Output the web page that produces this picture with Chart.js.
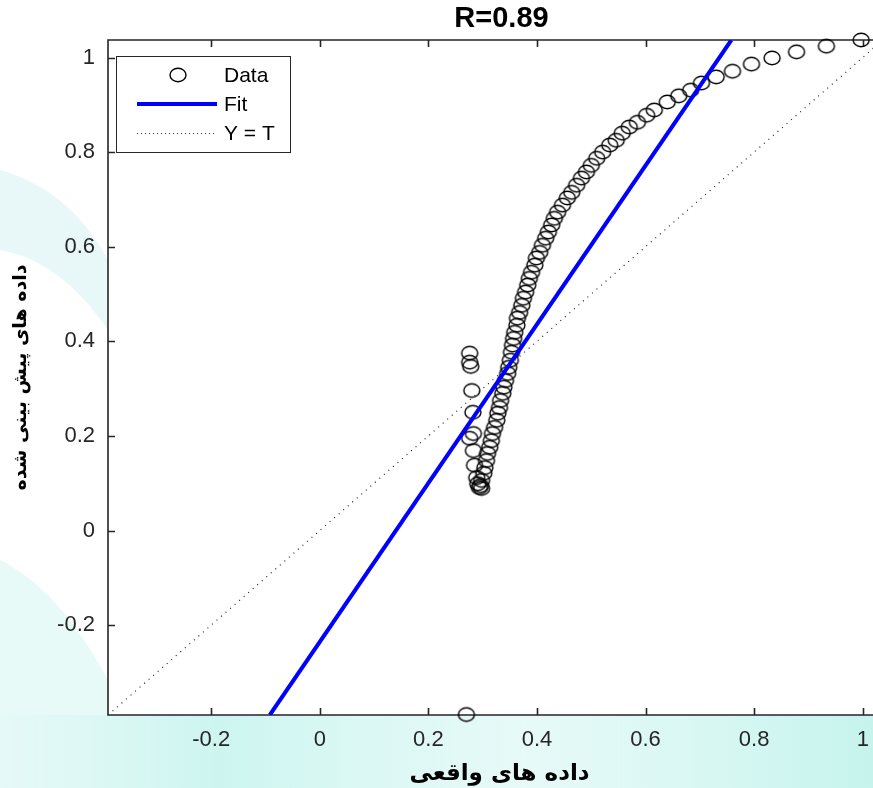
<!DOCTYPE html>
<html>
<head>
<meta charset="utf-8">
<title>R=0.89</title>
<script src="https://cdn.jsdelivr.net/npm/chart.js@4.4.1/dist/chart.umd.min.js"></script>
<style>
html, body { margin: 0; padding: 0; background: #fff; overflow: hidden; }
#wrap { position: relative; width: 901px; height: 788px; }
</style>
</head>
<body>
<div id="wrap"><canvas id="regChart" width="901" height="788"></canvas></div>
<script>
// values
const dataX = [0.270,
  0.276, 0.276, 0.278, 0.280, 0.282, 0.283, 0.276, 0.283, 0.285, 0.289, 0.291,
  0.294, 0.298, 0.296,
  0.298, 0.302, 0.304, 0.307, 0.309, 0.313, 0.316, 0.318, 0.322, 0.326, 0.328, 0.331, 0.333, 0.337,
  0.339, 0.342, 0.346, 0.348, 0.351, 0.353, 0.355, 0.357, 0.359, 0.363, 0.364, 0.368, 0.372, 0.375,
  0.379, 0.383, 0.386, 0.390, 0.396, 0.399, 0.405, 0.410, 0.416, 0.421, 0.427, 0.432, 0.438, 0.447,
  0.456, 0.464, 0.473, 0.482, 0.491, 0.500, 0.510, 0.521, 0.534, 0.546, 0.557, 0.570, 0.585, 0.602,
  0.616, 0.640, 0.661, 0.683, 0.703, 0.730, 0.760, 0.795, 0.833, 0.878, 0.933, 0.997];
const dataY = [-0.389,
  0.375, 0.356, 0.347, 0.296, 0.250, 0.205, 0.195, 0.169, 0.138, 0.112, 0.099,
  0.091, 0.089, 0.095,
  0.106, 0.121, 0.133, 0.148, 0.163, 0.176, 0.190, 0.205, 0.218, 0.233, 0.248, 0.260, 0.275, 0.290,
  0.303, 0.317, 0.332, 0.345, 0.360, 0.377, 0.392, 0.406, 0.419, 0.434, 0.449, 0.461, 0.476, 0.491,
  0.504, 0.519, 0.533, 0.546, 0.561, 0.576, 0.588, 0.603, 0.618, 0.631, 0.646, 0.660, 0.673, 0.688,
  0.703, 0.715, 0.730, 0.745, 0.758, 0.772, 0.787, 0.800, 0.815, 0.825, 0.840, 0.853, 0.863, 0.878,
  0.889, 0.906, 0.919, 0.931, 0.946, 0.959, 0.971, 0.986, 0.999, 1.012, 1.024, 1.037];

const fitX = [-0.092, 0.758];
const fitY = [-0.39, 1.037];
const unitX = [-0.39, 1.06];
const unitY = [-0.39, 1.06];

const xTicks = [-0.2, 0, 0.2, 0.4, 0.6, 0.8, 1];
const yTicks = [-0.2, 0, 0.2, 0.4, 0.6, 0.8, 1];
const legendNames = ['Data', 'Fit', 'Y = T'];

const titleText = 'R=0.89';
const xTitle = 'داده های واقعی';
const yTitle = 'داده های پیش بینی شده';

const axisColor = '#262626';
const numFont = 'Liberation Sans, Arial, sans-serif';

function pairs(xs, ys) {
  return xs.map((x, i) => ({ x: x, y: ys[i] }));
}

// open ellipse marker (the picture's circles are a little wider than tall)
const marker = document.createElement('canvas');
marker.width = 20;
marker.height = 18;
(function () {
  const m = marker.getContext('2d');
  m.strokeStyle = '#000';
  m.lineWidth = 1.4;
  m.beginPath();
  m.ellipse(10, 9, 8, 6.8, 0, 0, Math.PI * 2);
  m.stroke();
})();

// faint logo watermark behind the axes
const watermark = {
  id: 'watermark',
  beforeDraw(chart) {
    const c = chart.ctx;
    c.save();
    let g = c.createLinearGradient(0, 0, 873, 0);
    g.addColorStop(0, 'rgba(205,244,240,0.5)');
    g.addColorStop(0.25, 'rgba(200,244,238,0.9)');
    g.addColorStop(0.6, 'rgba(215,247,243,0.6)');
    g.addColorStop(1, 'rgba(195,243,236,0.95)');
    c.fillStyle = g;
    c.fillRect(0, 715, 901, 73);
    c.fillStyle = 'rgba(210,240,242,0.5)';
    c.beginPath();
    c.moveTo(0, 170);
    c.quadraticCurveTo(70, 190, 108, 260);
    c.lineTo(108, 330);
    c.quadraticCurveTo(60, 260, 0, 250);
    c.closePath();
    c.fill();
    c.fillStyle = 'rgba(205,244,238,0.45)';
    c.beginPath();
    c.moveTo(0, 560);
    c.quadraticCurveTo(60, 590, 108, 680);
    c.lineTo(108, 715);
    c.lineTo(0, 715);
    c.closePath();
    c.fill();
    c.restore();
  }
};

const frame = {
  id: 'frame',
  beforeDatasetsDraw(chart) {
    const c = chart.ctx;
    const a = chart.chartArea;
    const xs = chart.scales.x;
    const ys = chart.scales.y;
    c.save();
    c.fillStyle = '#fff';
    c.fillRect(a.left, a.top, a.right - a.left, a.bottom - a.top);
    c.strokeStyle = axisColor;
    c.lineWidth = 1.6;
    c.beginPath();
    c.rect(a.left, a.top, a.right - a.left, a.bottom - a.top);
    xTicks.forEach(v => {
      const px = Math.round(xs.getPixelForValue(v)) + 0.5;
      c.moveTo(px, a.bottom);
      c.lineTo(px, a.bottom - 7);
      c.moveTo(px, a.top);
      c.lineTo(px, a.top + 7);
    });
    yTicks.forEach(v => {
      const py = Math.round(ys.getPixelForValue(v)) + 0.5;
      c.moveTo(a.left, py);
      c.lineTo(a.left + 7, py);
      c.moveTo(a.right, py);
      c.lineTo(a.right - 7, py);
    });
    c.stroke();
    c.restore();
  },
  afterDraw(chart) {
    const c = chart.ctx;
    const a = chart.chartArea;
    c.save();
    // title over the axes
    c.fillStyle = '#000';
    c.font = 'bold 29px ' + numFont;
    c.textAlign = 'center';
    c.textBaseline = 'middle';
    c.fillText(titleText, (a.left + a.right) / 2 + 2, 19);

    // legend box
    const bx = a.left + 8, by = a.top + 16, bw = 174, bh = 96;
    c.fillStyle = '#fff';
    c.fillRect(bx, by, bw, bh);
    c.strokeStyle = axisColor;
    c.lineWidth = 1;
    c.strokeRect(bx + 0.5, by + 0.5, bw, bh);

    const rows = [by + 19, by + 48, by + 77];
    c.drawImage(marker, bx + 52, rows[0] - 9);
    c.strokeStyle = '#0000ff';
    c.lineWidth = 4;
    c.beginPath();
    c.moveTo(bx + 21, rows[1]);
    c.lineTo(bx + 101, rows[1]);
    c.stroke();
    c.strokeStyle = '#333';
    c.lineWidth = 1;
    c.setLineDash([1, 3]);
    c.beginPath();
    c.moveTo(bx + 21, rows[2] + 0.5);
    c.lineTo(bx + 101, rows[2] + 0.5);
    c.stroke();
    c.setLineDash([]);

    c.fillStyle = '#000';
    c.font = '21px ' + numFont;
    c.textAlign = 'left';
    legendNames.forEach((t, i) => c.fillText(t, bx + 108, rows[i] + 1));
    c.restore();
  }
};

const ctx = document.getElementById('regChart').getContext('2d');
const regChart = new Chart(ctx, {
  type: 'scatter',
  data: {
    datasets: [
      {
        label: legendNames[1],
        type: 'line',
        data: pairs(fitX, fitY),
        borderColor: '#0000ff',
        borderWidth: 4,
        pointRadius: 0,
        fill: false,
      },
      {
        label: legendNames[2],
        type: 'line',
        data: pairs(unitX, unitY),
        borderColor: '#222',
        borderWidth: 1.2,
        borderDash: [1, 5],
        pointRadius: 0,
        fill: false,
      },
      {
        label: legendNames[0],
        data: pairs(dataX, dataY),
        pointStyle: marker,
        pointRadius: 9,
        clip: 20,
      },
    ],
  },
  options: {
    responsive: false,
    animation: false,
    events: [],
    layout: { padding: { top: 40, left: 0, right: 0, bottom: 0 } },
    plugins: {
      legend: { display: false },
      tooltip: { enabled: false },
    },
    scales: {
      x: {
        type: 'linear',
        min: -0.39,
        max: 1.052,
        grid: { display: false, drawTicks: false },
        border: { display: false },
        afterBuildTicks: s => { s.ticks = xTicks.map(v => ({ value: v })); },
        afterFit: s => { s.height = 73; s.paddingLeft = 0; s.paddingRight = 0; },
        ticks: {
          padding: 12,
          color: axisColor,
          autoSkip: false,
          maxRotation: 0,
          font: { family: numFont, size: 22 },
          callback: v => String(v),
        },
        title: {
          display: true,
          text: xTitle,
          color: '#000',
          font: { family: 'DejaVu Sans', weight: 'bold', size: 23 },
          padding: { top: 0, bottom: 0 },
        },
      },
      y: {
        type: 'linear',
        min: -0.39,
        max: 1.037,
        grid: { display: false, drawTicks: false },
        border: { display: false },
        afterBuildTicks: s => { s.ticks = yTicks.map(v => ({ value: v })); },
        afterFit: s => { s.width = 108; s.paddingTop = 0; s.paddingBottom = 0; },
        ticks: {
          padding: 13,
          color: axisColor,
          font: { family: numFont, size: 22 },
          callback: v => String(v),
        },
        title: {
          display: true,
          text: yTitle,
          color: '#000',
          font: { family: 'DejaVu Sans', weight: 'bold', size: 19 },
          padding: { top: 10, bottom: 0 },
        },
      },
    },
  },
  plugins: [watermark, frame],
});
</script>
</body>
</html>
